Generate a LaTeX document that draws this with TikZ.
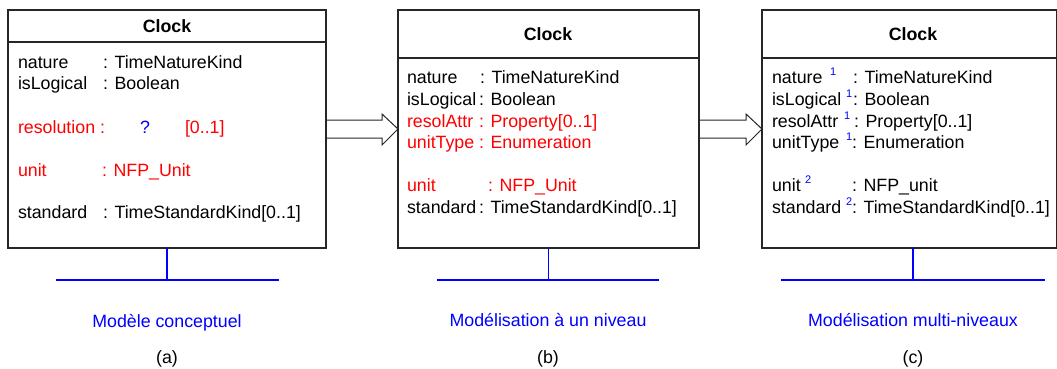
\documentclass[tikz,border=0pt]{standalone}
\usepackage{fontspec}
\setmainfont{Liberation Sans}
\usetikzlibrary{calc}
\definecolor{ublue}{RGB}{0,0,255}
\definecolor{ured}{RGB}{255,0,0}
\begin{document}
\begin{tikzpicture}[x=1pt,y=-1pt,
  every node/.style={inner sep=0pt,outer sep=0pt,font=\fontsize{17.8}{21}\selectfont},
  umlbox/.style={draw=black!85,line width=1.3pt,rectangle,anchor=north west},
  boxline/.style={draw=black!85,line width=1.3pt},
  title/.style={font=\fontsize{17.8}{21}\selectfont\bfseries,anchor=center},
  txt/.style={anchor=base west},
  redtxt/.style={txt,text=ured},
  sup/.style={anchor=base west,text=ublue,font=\fontsize{11}{11}\selectfont},
  bline/.style={draw=ublue,line width=1.3pt},
  harrow/.style={draw=black!85,line width=1pt,line join=miter},
  lab/.style={anchor=base,text=ublue},
  caplabel/.style={anchor=base}
]
\useasboundingbox (0,0) rectangle (1057,369);

% boxes
\node[umlbox,minimum width=318pt,minimum height=238pt] (boxa) at (8,10) {};
\node[umlbox,minimum width=301pt,minimum height=238pt] (boxb) at (398,10) {};
\node[umlbox,minimum width=294.5pt,minimum height=238pt] (boxc) at (762,10) {};

\draw[boxline] (boxa.west |- 0,42) -- (boxa.east |- 0,42);
\draw[boxline] (boxb.west |- 0,58) -- (boxb.east |- 0,58);
\draw[boxline] (boxc.west |- 0,58) -- (boxc.east |- 0,58);

\node[title] (ta) at (167,26) {Clock};
\node[title] (tb) at (548,34) {Clock};
\node[title] (tc) at (913,34) {Clock};

% box a
\node[txt] (a1n) at (18,68) {nature};
\node[txt] (a1t) at (103,68) {: TimeNatureKind};
\node[txt] (a2n) at (18,89) {isLogical};
\node[txt] (a2t) at (103,89) {: Boolean};
\node[redtxt] (a3n) at (18,133) {resolution :};
\node[txt,text=ublue] (a3q) at (140,133) {?};
\node[redtxt] (a3m) at (185,133) {[0..1]};
\node[redtxt] (a4n) at (18,176) {unit};
\node[redtxt] (a4t) at (102,176) {: NFP\_Unit};
\node[txt] (a5n) at (18,218) {standard};
\node[txt] (a5t) at (103,218) {: TimeStandardKind[0..1]};

% box b
\node[txt] (b1n) at (407,83) {nature};
\node[txt] (b1t) at (480,83) {: TimeNatureKind};
\node[txt] (b2n) at (407,105) {isLogical};
\node[txt] (b2t) at (479,105) {: Boolean};
\node[redtxt] (b3n) at (407,127) {resolAttr};
\node[redtxt] (b3t) at (479,127) {: Property[0..1]};
\node[redtxt] (b4n) at (407,148) {unitType};
\node[redtxt] (b4t) at (479,148) {: Enumeration};
\node[redtxt] (b5n) at (407,191) {unit};
\node[redtxt] (b5t) at (488,191) {: NFP\_Unit};
\node[txt] (b6n) at (407,213) {standard};
\node[txt] (b6t) at (479,213) {: TimeStandardKind[0..1]};

% box c
\node[txt] (c1n) at (772,83) {nature};
\node[sup] (c1s) at (830,75) {1};
\node[txt] (c1t) at (853,83) {: TimeNatureKind};
\node[txt] (c2n) at (772,105) {isLogical};
\node[sup] (c2s) at (846,97) {1};
\node[txt] (c2t) at (853,105) {: Boolean};
\node[txt] (c3n) at (772,127) {resolAttr};
\node[sup] (c3s) at (844,119) {1};
\node[txt] (c3t) at (854,127) {: Property[0..1]};
\node[txt] (c4n) at (772,148) {unitType};
\node[sup] (c4s) at (846,140) {1};
\node[txt] (c4t) at (852,148) {: Enumeration};
\node[txt] (c5n) at (772,191) {unit};
\node[sup] (c5s) at (805,183) {2};
\node[txt] (c5t) at (852,191) {: NFP\_unit};
\node[txt] (c6n) at (772,213) {standard};
\node[sup] (c6s) at (846,205) {2};
\node[txt] (c6t) at (852,213) {: TimeStandardKind[0..1]};

% hollow arrows
\draw[harrow] (boxa.east |- 0,120) -- (382,120) -- (382,114) -- (boxb.west |- 0,129)
  -- (382,145) -- (382,138) -- (boxa.east |- 0,138);
\draw[harrow] (boxb.east |- 0,120) -- (746,120) -- (746,114) -- (boxc.west |- 0,129)
  -- (746,145) -- (746,138) -- (boxb.east |- 0,138);

% stems
\coordinate (sa) at (167,280);
\coordinate (sb) at (548.5,280);
\coordinate (sc) at (913,280);
\draw[bline] (boxa.south -| sa) -- (sa);
\draw[bline] (boxb.south -| sb) -- (sb);
\draw[bline] (boxc.south -| sc) -- (sc);
\draw[bline] (56,280) -- (279,280);
\draw[bline] (437,280) -- (659,280);
\draw[bline] (781,280) -- (1045,280);

% labels
\node[lab] (la) at (167,327) {Modèle conceptuel};
\node[lab] (lb) at (548,326) {Modélisation à un niveau};
\node[lab] (lc) at (913,326) {Modélisation multi-niveaux};
\node[caplabel] (ca) at (167,363) {(a)};
\node[caplabel] (cb) at (548,363) {(b)};
\node[caplabel] (cc) at (913,363) {(c)};
\end{tikzpicture}
\end{document}
